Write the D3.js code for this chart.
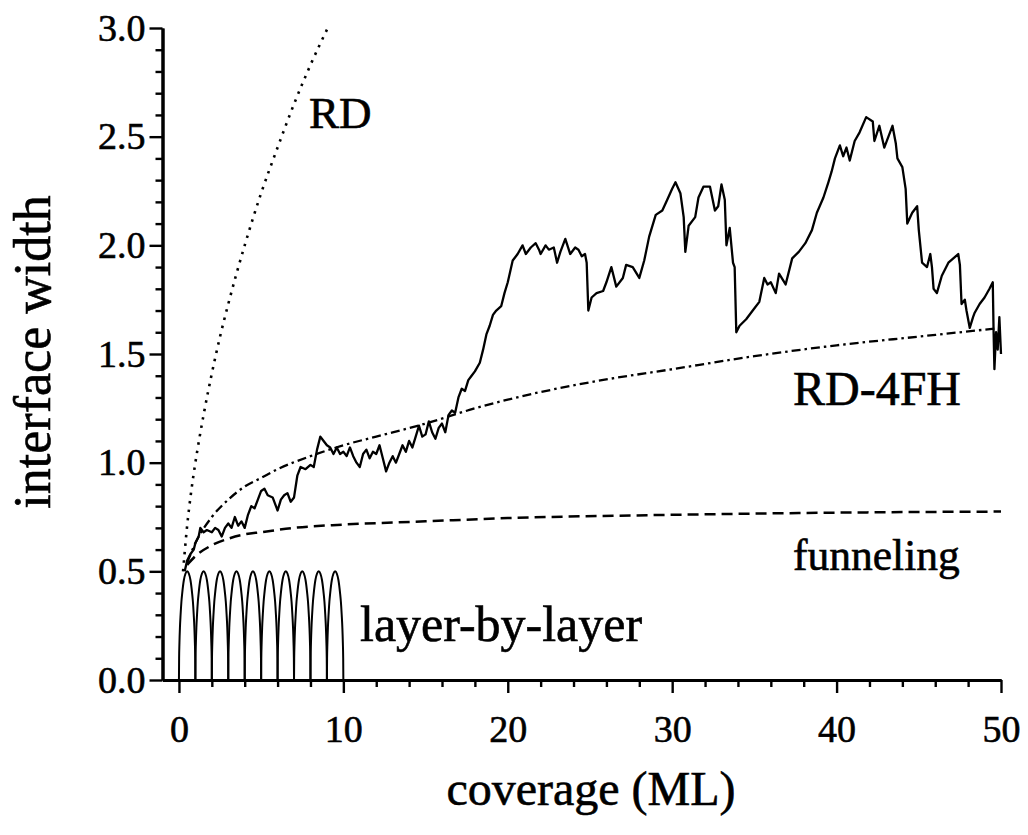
<!DOCTYPE html>
<html>
<head>
<meta charset="utf-8">
<script src="https://cdn.jsdelivr.net/npm/d3@7"></script>
<style>
  body { margin: 0; background: #fff; }
  svg { display: block; }
  text { font-family: "Liberation Serif", "Times New Roman", serif; fill: #000; stroke: #000; stroke-width: 0.6px; }
</style>
</head>
<body>
<svg id="chart" width="1028" height="835"></svg>
<script>
// ---- axis ticks ----
const xMajorTicks = [0, 10, 20, 30, 40, 50];
const xMinorTicks = [2, 4, 6, 8, 12, 14, 16, 18, 22, 24, 26, 28, 32, 34, 36, 38, 42, 44, 46, 48];
const yMajorTicks = [0.0, 0.5, 1.0, 1.5, 2.0, 2.5, 3.0];
const yMinorTicks = [0.1, 0.2, 0.3, 0.4, 0.6, 0.7, 0.8, 0.9, 1.1, 1.2, 1.3, 1.4,
                     1.6, 1.7, 1.8, 1.9, 2.1, 2.2, 2.3, 2.4, 2.6, 2.7, 2.8, 2.9];

// ---- random deposition (dotted) ----
const rdCoverage = [0.25, 0.5, 0.75, 1.0, 1.5, 2.0, 2.5, 3.0, 4.0, 5.0, 6.0, 7.0, 8.0, 9.05];
const rdWidth    = [0.50, 0.71, 0.87, 1.00, 1.22, 1.41, 1.58, 1.73, 2.00, 2.24, 2.45, 2.65, 2.83, 3.00];

// ---- RD with four-fold hollow relaxation (dash-dot) ----
const rd4fhCoverage = [0.5, 1, 2, 3, 4, 5, 6, 8, 10, 12, 15, 18, 20, 25, 30, 35, 40, 45, 50];
const rd4fhWidth    = [0.54, 0.63, 0.75, 0.83, 0.89, 0.93, 0.97, 1.03, 1.08, 1.12, 1.18, 1.25,
                       1.29, 1.37, 1.43, 1.49, 1.54, 1.58, 1.62];

// ---- funneling (dashed) ----
const funnelCoverage = [0.5, 1, 2, 3, 4, 5, 7, 10, 15, 20, 30, 40, 50];
const funnelWidth    = [0.53, 0.57, 0.62, 0.65, 0.67, 0.68, 0.70, 0.715, 0.73, 0.745, 0.76, 0.77, 0.775];

// ---- layer-by-layer: one arch per completed monolayer ----
const layerStarts = [0, 1, 2, 3, 4, 5, 6, 7, 8, 9];
const archFraction = [0, 0.01, 0.03, 0.06, 0.10, 0.15, 0.20, 0.30, 0.40, 0.50,
                      0.60, 0.70, 0.80, 0.85, 0.90, 0.94, 0.97, 0.99, 1];
const archWidth    = [0, 0.10, 0.17, 0.24, 0.30, 0.36, 0.40, 0.46, 0.49, 0.50,
                      0.49, 0.46, 0.40, 0.36, 0.30, 0.24, 0.17, 0.10, 0];

// ---- simulated growth (solid) ----
const simCoverage = [
  0.35, 0.5, 0.7, 0.9, 1.0, 1.2, 1.3, 1.5, 1.7, 2.0, 2.2, 2.4, 2.6, 2.8, 3.0, 3.2, 3.4, 3.6, 3.8, 4.0,
  4.2, 4.4, 4.6, 4.8, 5.0, 5.2, 5.4, 5.7, 5.9, 6.0, 6.2, 6.4, 6.6, 6.8, 7.0, 7.2, 7.4, 7.7, 8.0, 8.2,
  8.4, 8.6, 8.8, 9.0, 9.2, 9.4, 9.6, 9.8, 10.0, 10.2, 10.4, 10.6, 10.8, 11.0, 11.2, 11.4, 11.6, 11.8, 12.0, 12.2,
  12.4, 12.6, 12.8, 13.0, 13.2, 13.4, 13.6, 13.8, 14.0, 14.2, 14.4, 14.6, 14.8, 15.0, 15.2, 15.4, 15.6, 15.8, 16.0, 16.2,
  16.4, 16.6, 16.8, 17.0, 17.2, 17.4, 17.6, 17.8, 18.0, 18.3, 18.5, 18.7, 18.9, 19.1, 19.3, 19.6, 19.8, 20.0, 20.3, 20.6,
  20.9, 21.1, 21.4, 21.7, 21.9, 22.0, 22.3, 22.5, 22.8, 23.0, 23.2, 23.5, 23.8, 24.1, 24.3, 24.5, 24.7, 24.8, 24.9, 25.1,
  25.4, 25.8, 26.0, 26.3, 26.6, 27.0, 27.2, 27.6, 28.0, 28.3, 28.6, 29.0, 29.4, 29.7, 30.0, 30.2, 30.5, 30.7, 30.8, 31.0,
  31.4, 31.6, 31.9, 32.3, 32.6, 32.8, 33.0, 33.2, 33.3, 33.5, 33.7, 33.8, 33.9, 34.1, 34.5, 34.9, 35.3, 35.6, 35.8, 36.0,
  36.3, 36.5, 36.9, 37.3, 37.7, 38.1, 38.5, 38.8, 39.2, 39.5, 39.7, 39.9, 40.2, 40.4, 40.6, 40.8, 41.1, 41.4, 41.8, 42.2,
  42.3, 42.6, 42.9, 43.4, 43.6, 43.7, 44.0, 44.2, 44.3, 44.6, 44.9, 45.0, 45.2, 45.5, 45.7, 45.8, 45.9, 46.1, 46.4, 46.8,
  47.1, 47.4, 47.5, 47.6, 47.8, 47.9, 48.1, 48.3, 48.4, 48.7, 49.0, 49.3, 49.5, 49.55, 49.6, 49.7, 49.8, 49.9, 50.0
];
const simWidth = [
  0.50, 0.55, 0.58, 0.60, 0.63, 0.66, 0.70, 0.68, 0.69, 0.68, 0.70, 0.69, 0.66, 0.70, 0.72, 0.70, 0.75, 0.71, 0.73, 0.70,
  0.76, 0.80, 0.79, 0.83, 0.87, 0.88, 0.85, 0.84, 0.80, 0.78, 0.83, 0.85, 0.86, 0.82, 0.84, 0.94, 0.98, 0.97, 0.99, 0.98,
  1.06, 1.12, 1.10, 1.08, 1.07, 1.04, 1.07, 1.04, 1.05, 1.03, 1.07, 1.03, 1.00, 0.98, 1.04, 1.06, 1.02, 1.05, 1.04, 1.08,
  1.02, 0.96, 1.00, 1.03, 1.00, 1.04, 1.08, 1.05, 1.10, 1.07, 1.12, 1.17, 1.12, 1.13, 1.19, 1.14, 1.11, 1.16, 1.18, 1.14,
  1.22, 1.24, 1.23, 1.30, 1.34, 1.33, 1.38, 1.40, 1.42, 1.46, 1.52, 1.59, 1.63, 1.68, 1.70, 1.72, 1.78, 1.83, 1.93, 1.96,
  2.00, 1.96, 1.99, 2.01, 1.98, 1.96, 2.00, 1.98, 1.99, 1.92, 1.97, 2.03, 1.96, 1.99, 1.98, 1.95, 1.96, 1.92, 1.70, 1.76,
  1.78, 1.79, 1.83, 1.90, 1.81, 1.85, 1.91, 1.90, 1.85, 1.93, 2.04, 2.14, 2.16, 2.21, 2.26, 2.29, 2.24, 2.13, 1.97, 2.09,
  2.13, 2.22, 2.27, 2.27, 2.16, 2.18, 2.28, 2.21, 2.00, 2.08, 1.92, 1.90, 1.60, 1.63, 1.66, 1.70, 1.74, 1.85, 1.82, 1.83,
  1.78, 1.87, 1.82, 1.94, 1.97, 2.01, 2.07, 2.15, 2.22, 2.29, 2.34, 2.40, 2.46, 2.41, 2.45, 2.39, 2.48, 2.52, 2.59, 2.57,
  2.48, 2.55, 2.45, 2.55, 2.47, 2.40, 2.36, 2.26, 2.10, 2.15, 2.18, 2.07, 1.92, 1.90, 1.96, 1.90, 1.80, 1.78, 1.86, 1.92,
  1.94, 1.96, 1.91, 1.73, 1.75, 1.70, 1.62, 1.67, 1.69, 1.73, 1.76, 1.80, 1.83, 1.60, 1.43, 1.60, 1.52, 1.67, 1.50
];

// ---- labels ----
const xTitle = "coverage (ML)";
const yTitle = "interface width";
const curveLabels = [
  { text: "RD",             x: 309, y: 128, size: 45 },
  { text: "RD-4FH",         x: 793, y: 405, size: 48 },
  { text: "funneling",      x: 793, y: 570, size: 43.5 },
  { text: "layer-by-layer", x: 360, y: 641, size: 50 }
];

// ---- drawing ----
const svg = d3.select("#chart");
const x = d3.scaleLinear().domain([-1, 50]).range([162.5, 1001]);
const y = d3.scaleLinear().domain([0, 3]).range([680, 28]);

const zip = (xs, ys) => xs.map((v, i) => [v, ys[i]]);
const smooth = d3.line().x(d => x(d[0])).y(d => y(d[1])).curve(d3.curveMonotoneX);
const straight = d3.line().x(d => x(d[0])).y(d => y(d[1]));

const plot = svg.append("g").attr("fill", "none").attr("stroke", "#000");

// layer-by-layer arches
layerStarts.forEach(s => {
  plot.append("path")
    .attr("d", smooth(zip(archFraction.map(f => s + f), archWidth)))
    .attr("stroke-width", 2);
});

// funneling
plot.append("path")
  .attr("d", smooth(zip(funnelCoverage, funnelWidth)))
  .attr("stroke-width", 2.5)
  .attr("stroke-dasharray", "11 6");

// RD-4FH
plot.append("path")
  .attr("d", smooth(zip(rd4fhCoverage, rd4fhWidth)))
  .attr("stroke-width", 2.3)
  .attr("stroke-dasharray", "9 4 2.5 4");

// RD
plot.append("path")
  .attr("d", smooth(zip(rdCoverage, rdWidth)))
  .attr("stroke-width", 2.6)
  .attr("stroke-dasharray", "2.5 6");

// simulation
plot.append("path")
  .attr("d", straight(zip(simCoverage, simWidth)))
  .attr("stroke-width", 2.3)
  .attr("stroke-linejoin", "round");

// axes
function styleAxis(g) {
  g.attr("font-family", null).attr("font-size", null);
  g.select(".domain").attr("stroke-width", 3);
  g.selectAll(".tick line").attr("stroke-width", 2.4);
  g.selectAll(".tick text")
    .style("font-family", "'Liberation Serif', 'Times New Roman', serif")
    .style("font-size", "38px")
    .attr("fill", "#000");
}

svg.append("g")
  .attr("transform", "translate(0,680)")
  .call(d3.axisBottom(x).tickValues(xMinorTicks).tickSize(7).tickSizeOuter(0).tickFormat(""))
  .call(styleAxis);
svg.append("g")
  .attr("transform", "translate(0,680)")
  .call(d3.axisBottom(x).tickValues(xMajorTicks).tickSize(13).tickSizeOuter(0).tickPadding(22)
    .tickFormat(d3.format("d")))
  .call(styleAxis);

svg.append("g")
  .attr("transform", "translate(162.5,0)")
  .call(d3.axisLeft(y).tickValues(yMinorTicks).tickSize(7).tickSizeOuter(0).tickFormat(""))
  .call(styleAxis);
svg.append("g")
  .attr("transform", "translate(162.5,0)")
  .call(d3.axisLeft(y).tickValues(yMajorTicks).tickSize(13).tickSizeOuter(0).tickPadding(4)
    .tickFormat(d3.format(".1f")))
  .call(styleAxis);

// titles
svg.append("text")
  .attr("x", 591).attr("y", 805)
  .attr("text-anchor", "middle")
  .style("font-size", "48px")
  .text(xTitle);
svg.append("text")
  .attr("transform", "translate(50,352) rotate(-90)")
  .attr("text-anchor", "middle")
  .style("font-size", "52px")
  .text(yTitle);

// curve labels
svg.selectAll(".curve-label")
  .data(curveLabels)
  .join("text")
  .attr("class", "curve-label")
  .attr("x", d => d.x).attr("y", d => d.y)
  .style("font-size", d => d.size + "px")
  .text(d => d.text);
</script>
</body>
</html>
